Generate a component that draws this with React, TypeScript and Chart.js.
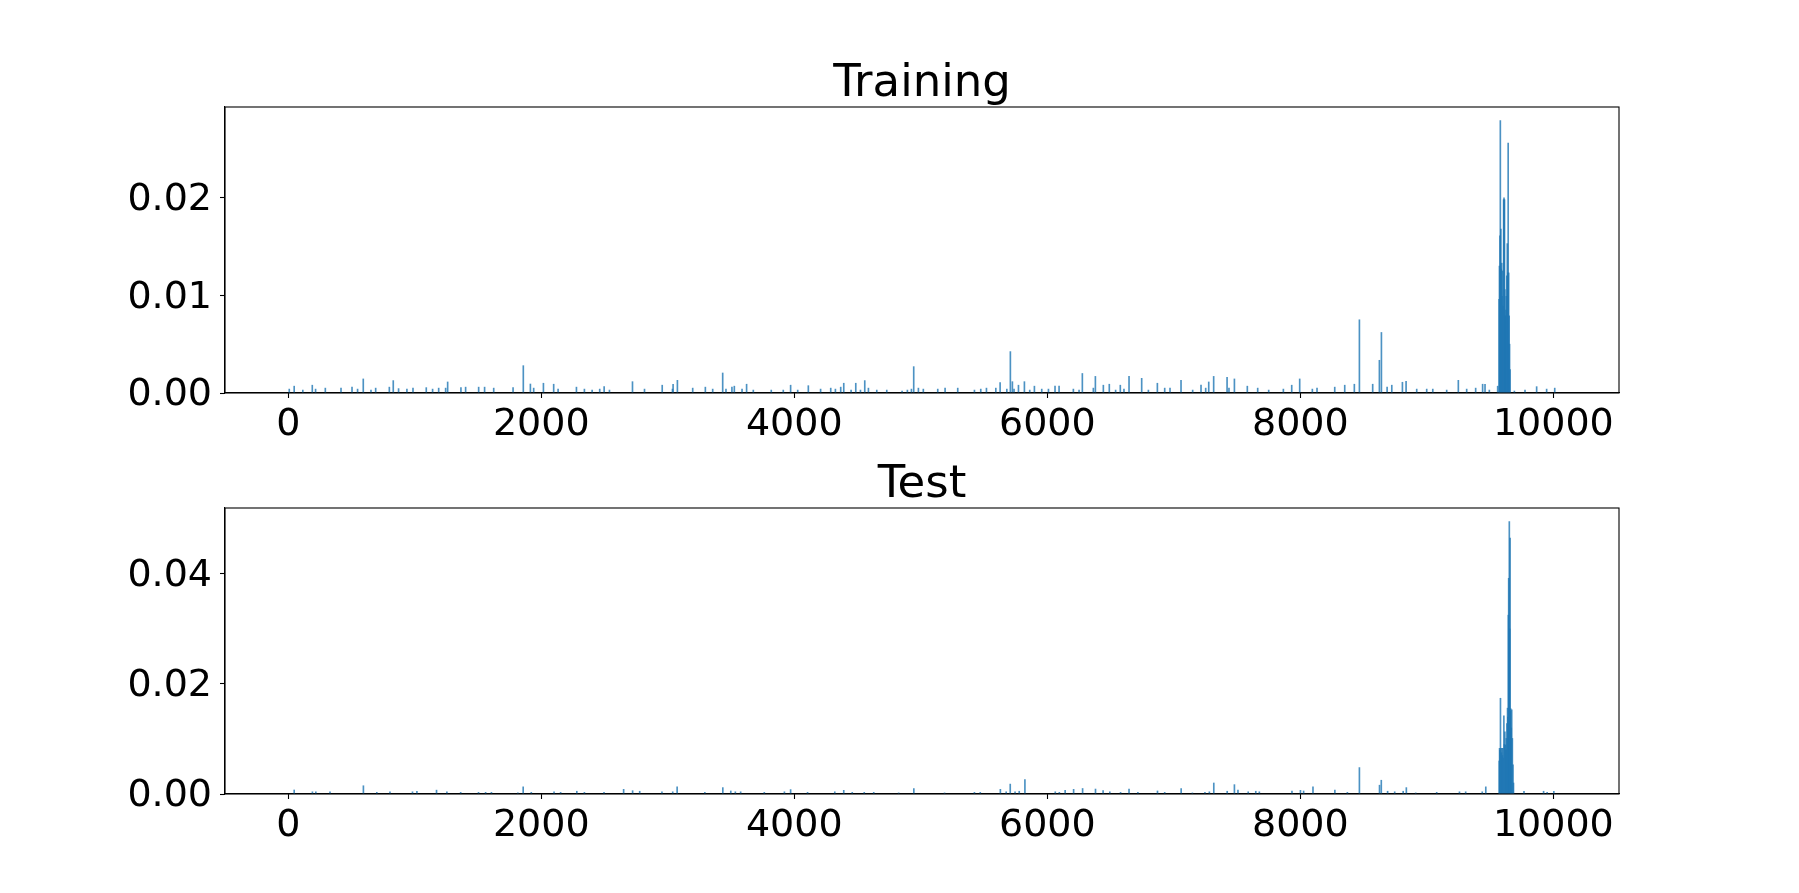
import React, { useEffect, useRef } from "react";
import { Chart, registerables } from "chart.js";

Chart.register(...registerables);

const X_MIN = -500;
const X_MAX = 10519;
const X_TICKS = [0, 2000, 4000, 6000, 8000, 10000];
const TRAIN_Y_TICKS = [0, 0.01, 0.02];
const TEST_Y_TICKS = [0, 0.02, 0.04];

const TRAIN_SPIKE_IDX = [
  8, 47, 115, 190, 216, 293, 417, 504, 548, 593, 654, 691, 799, 830, 872, 938, 986, 1091, 1141, 1189,
  1244, 1260, 1365, 1402, 1505, 1552, 1624, 1777, 1858, 1914, 1940, 2017, 2098, 2133, 2278, 2341, 2402,
  2462, 2497, 2539, 2721, 2816, 2956, 3037, 3042, 3076, 3197, 3297, 3355, 3434, 3460, 3507, 3526, 3587,
  3623, 3676, 3818, 3913, 3971, 4027, 4111, 4208, 4288, 4325, 4367, 4391, 4449, 4486, 4523, 4557, 4586,
  4652, 4731, 4852, 4894, 4926, 4944, 4981, 5020, 5134, 5192, 5292, 5424, 5474, 5519, 5593, 5627, 5680,
  5708, 5724, 5737, 5772, 5819, 5861, 5898, 5956, 6009, 6061, 6093, 6206, 6251, 6277, 6364, 6380, 6443,
  6490, 6540, 6577, 6606, 6646, 6746, 6799, 6870, 6928, 6970, 7057, 7149, 7215, 7252, 7276, 7315, 7421,
  7436, 7479, 7581, 7663, 7750, 7866, 7932, 7995, 8095, 8132, 8272, 8351, 8427, 8467, 8572, 8625, 8641,
  8686, 8723, 8807, 8836, 8920, 8999, 9047, 9157, 9249, 9315, 9386, 9441, 9460, 9494, 9560, 9692, 9776,
  9868, 9947, 10011,
];
const TRAIN_SPIKE_VAL = [
  0.0004, 0.0007, 0.0003, 0.0008, 0.0004, 0.0005, 0.0005, 0.0006, 0.0004, 0.00144, 0.0003, 0.0005, 0.0006,
  0.00127, 0.00045, 0.0004, 0.0005, 0.00055, 0.0004, 0.0005, 0.0005, 0.00113, 0.00055, 0.0006, 0.0006,
  0.0006, 0.0005, 0.00055, 0.0028, 0.00092, 0.0005, 0.001, 0.0009, 0.0004, 0.0006, 0.0004, 0.0003, 0.0004,
  0.00065, 0.0003, 0.00116, 0.0004, 0.0008, 0.0004, 0.0009, 0.0013, 0.0005, 0.0006, 0.0004, 0.00205,
  0.0004, 0.0006, 0.0007, 0.0004, 0.0009, 0.0003, 0.0003, 0.0003, 0.0008, 0.0003, 0.00075, 0.0004, 0.0005,
  0.0004, 0.0006, 0.001, 0.0003, 0.001, 0.0003, 0.00127, 0.0005, 0.0003, 0.0003, 0.0002, 0.0003, 0.0004,
  0.0027, 0.0005, 0.0004, 0.0004, 0.0005, 0.0005, 0.0003, 0.0004, 0.0005, 0.0005, 0.00106, 0.0004, 0.00424,
  0.00116, 0.0004, 0.0008, 0.00116, 0.0003, 0.0007, 0.0004, 0.0004, 0.0007, 0.0007, 0.0004, 0.0003, 0.002,
  0.0005, 0.0017, 0.0008, 0.0009, 0.0003, 0.0008, 0.0004, 0.0017, 0.0015, 0.0003, 0.001, 0.0005, 0.0005,
  0.0013, 0.0003, 0.0008, 0.0005, 0.00113, 0.0017, 0.0016, 0.0005, 0.00144, 0.0007, 0.0005, 0.0003, 0.0004,
  0.0008, 0.00144, 0.0004, 0.0005, 0.0006, 0.0008, 0.0009, 0.0075, 0.0009, 0.00335, 0.0062, 0.0006, 0.0008,
  0.0011, 0.0012, 0.0004, 0.0004, 0.0004, 0.0003, 0.0013, 0.0004, 0.0005, 0.0009, 0.0009, 0.0003, 0.0007,
  0.0002, 0.0003, 0.00065, 0.0004, 0.0005,
];
const TRAIN_CLUSTER_IDX = [
  9571, 9574, 9578, 9581, 9585, 9588, 9592, 9595, 9599, 9603, 9607, 9610, 9614, 9617, 9621, 9625, 9628,
  9632, 9636, 9640, 9643, 9647, 9651, 9654, 9658,
];
const TRAIN_CLUSTER_VAL = [
  0.0096, 0.013, 0.0161, 0.0279, 0.0168, 0.0127, 0.0133, 0.0099, 0.0125, 0.0089, 0.0198, 0.02, 0.0198,
  0.0106, 0.0079, 0.0085, 0.0099, 0.012, 0.0153, 0.0123, 0.0256, 0.0123, 0.0079, 0.005, 0.0024,
];

const TEST_SPIKE_IDX = [
  47, 191, 218, 330, 594, 700, 804, 982, 1017, 1172, 1254, 1363, 1504, 1560, 1606, 1815, 1857, 1921, 2101,
  2153, 2281, 2341, 2496, 2651, 2722, 2778, 2954, 3039, 3074, 3293, 3435, 3498, 3534, 3576, 3763, 3922,
  3971, 4105, 4320, 4391, 4458, 4553, 4628, 4825, 4945, 5188, 5424, 5470, 5629, 5675, 5707, 5745, 5778,
  5823, 6063, 6095, 6141, 6208, 6279, 6381, 6441, 6494, 6579, 6646, 6716, 6871, 6928, 7058, 7147, 7246,
  7281, 7316, 7422, 7479, 7507, 7588, 7648, 7676, 7934, 8001, 8026, 8100, 8273, 8372, 8467, 8626, 8640,
  8690, 8746, 8813, 8838, 8912, 9078, 9258, 9307, 9438, 9466, 9768, 9923, 9951, 10004,
];
const TEST_SPIKE_VAL = [
  0.00073, 0.0004, 0.0004, 0.0004, 0.0015, 0.0003, 0.0004, 0.0004, 0.0005, 0.0007, 0.0004, 0.0003, 0.0003,
  0.0003, 0.0003, 0.0002, 0.0013, 0.0003, 0.0004, 0.0003, 0.0005, 0.0003, 0.0003, 0.00085, 0.0006, 0.0005,
  0.0004, 0.0004, 0.0013, 0.0003, 0.00116, 0.00055, 0.0004, 0.0004, 0.0003, 0.0004, 0.0008, 0.0003, 0.0004,
  0.00067, 0.0003, 0.0003, 0.0003, 0.0002, 0.001, 0.0002, 0.0003, 0.0003, 0.00085, 0.0004, 0.0018, 0.0004,
  0.0005, 0.0026, 0.0004, 0.0003, 0.00067, 0.00085, 0.001, 0.0009, 0.0006, 0.0004, 0.0003, 0.0009, 0.0003,
  0.00055, 0.0003, 0.001, 0.0002, 0.0003, 0.0004, 0.002, 0.0005, 0.0017, 0.0007, 0.0004, 0.0005, 0.0004,
  0.00055, 0.00067, 0.00055, 0.0013, 0.0007, 0.0003, 0.0048, 0.0016, 0.0025, 0.0005, 0.0004, 0.0005,
  0.00116, 0.0002, 0.0003, 0.0004, 0.0004, 0.0004, 0.0013, 0.0005, 0.0005, 0.0003, 0.0005,
];
const TEST_CLUSTER_IDX = [
  9572, 9575, 9578, 9582, 9586, 9590, 9594, 9598, 9601, 9604, 9609, 9613, 9617, 9622, 9625, 9628, 9633,
  9638, 9641, 9644, 9647, 9652, 9655, 9658, 9661, 9663, 9667, 9671, 9676, 9681, 9685,
];
const TEST_CLUSTER_VAL = [
  0.006, 0.0083, 0.008, 0.0174, 0.0083, 0.0075, 0.0083, 0.007, 0.0083, 0.0065, 0.0142, 0.009, 0.0113,
  0.0089, 0.008, 0.0101, 0.0128, 0.0156, 0.014, 0.0325, 0.0392, 0.0495, 0.03, 0.0465, 0.015, 0.0155, 0.012,
  0.0153, 0.0101, 0.0053, 0.002,
];

const FONT = "'DejaVu Sans', sans-serif";

const framePlugin = {
  id: "frame",
  afterDraw(chart: any) {
    const { ctx, chartArea } = chart;
    ctx.save();
    ctx.strokeStyle = "#000";
    ctx.lineWidth = 1.1;
    ctx.strokeRect(chartArea.left, chartArea.top, chartArea.right - chartArea.left, chartArea.bottom - chartArea.top);
    ctx.restore();
  },
};

type PanelProps = {
  title: string;
  spikeIdx: number[];
  spikeVal: number[];
  clusterIdx: number[];
  clusterVal: number[];
  yTicks: number[];
  canvasTop: number;
  canvasHeight: number;
  areaTop: number;
  areaBottom: number;
};

function Panel(p: PanelProps) {
  const ref = useRef<HTMLCanvasElement>(null);
  useEffect(() => {
    const pts = [
      ...p.spikeIdx.map((x, i) => ({ x, y: p.spikeVal[i] })),
      ...p.clusterIdx.map((x, i) => ({ x, y: p.clusterVal[i] })),
    ].sort((a, b) => a.x - b.x);
    const yMax = Math.max(...p.spikeVal, ...p.clusterVal) * 1.05;
    const chart = new Chart(ref.current as HTMLCanvasElement, {
      type: "bar",
      data: {
        datasets: [
          {
            data: pts as any,
            backgroundColor: "rgba(31,119,180,0.8)",
            borderWidth: 0,
            barThickness: 1,
          } as any,
        ],
      },
      options: {
        animation: false,
        responsive: false,
        maintainAspectRatio: false,
        devicePixelRatio: 1,
        events: [],
        layout: { padding: { left: 0, right: 180, top: 0, bottom: 0 } },
        plugins: {
          legend: { display: false },
          tooltip: { enabled: false },
          title: {
            display: true,
            text: p.title,
            fullSize: false,
            color: "#000",
            font: { family: FONT, size: 45, weight: "normal", lineHeight: 1 },
            padding: { top: p.areaTop - 45, bottom: 0 },
          },
        },
        scales: {
          x: {
            type: "linear",
            offset: false,
            min: X_MIN,
            max: X_MAX,
            afterBuildTicks: (s: any) => {
              s.ticks = X_TICKS.map((v) => ({ value: v }));
            },
            afterFit: (s: any) => {
              s.height = p.canvasHeight - p.areaBottom;
            },
            ticks: {
              color: "#000",
              font: { family: FONT, size: 38 },
              padding: 4,
              maxRotation: 0,
              autoSkip: false,
              callback: (v: any) => String(v),
            },
            grid: {
              display: true,
              offset: false,
              drawOnChartArea: false,
              drawTicks: true,
              tickLength: 5,
              tickColor: "#000",
              tickWidth: 1.1,
            },
            border: { display: true, color: "#000", width: 1.1 },
          },
          y: {
            type: "linear",
            min: 0,
            max: yMax,
            afterBuildTicks: (s: any) => {
              s.ticks = p.yTicks.map((v) => ({ value: v }));
            },
            afterFit: (s: any) => {
              s.width = 225;
            },
            ticks: {
              color: "#000",
              font: { family: FONT, size: 38 },
              padding: 8,
              labelOffset: 2.5,
              autoSkip: false,
              callback: (v: any) => Number(v).toFixed(2),
            },
            grid: {
              display: true,
              drawOnChartArea: false,
              drawTicks: true,
              tickLength: 5,
              tickColor: "#000",
              tickWidth: 1.1,
            },
            border: { display: true, color: "#000", width: 1.1 },
          },
        },
      },
      plugins: [framePlugin],
    });
    return () => chart.destroy();
  }, []);
  return (
    <canvas
      ref={ref}
      width={1799}
      height={p.canvasHeight}
      style={{ position: "absolute", left: 0, top: p.canvasTop, width: 1799, height: p.canvasHeight }}
    />
  );
}

export default function App() {
  return (
    <div style={{ position: "absolute", left: 0, top: 0, width: 1799, height: 893, background: "#fff" }}>
      <Panel
        title="Training"
        spikeIdx={TRAIN_SPIKE_IDX}
        spikeVal={TRAIN_SPIKE_VAL}
        clusterIdx={TRAIN_CLUSTER_IDX}
        clusterVal={TRAIN_CLUSTER_VAL}
        yTicks={TRAIN_Y_TICKS}
        canvasTop={0}
        canvasHeight={450}
        areaTop={107}
        areaBottom={393}
      />
      <Panel
        title="Test"
        spikeIdx={TEST_SPIKE_IDX}
        spikeVal={TEST_SPIKE_VAL}
        clusterIdx={TEST_CLUSTER_IDX}
        clusterVal={TEST_CLUSTER_VAL}
        yTicks={TEST_Y_TICKS}
        canvasTop={400}
        canvasHeight={493}
        areaTop={108}
        areaBottom={394}
      />
    </div>
  );
}
